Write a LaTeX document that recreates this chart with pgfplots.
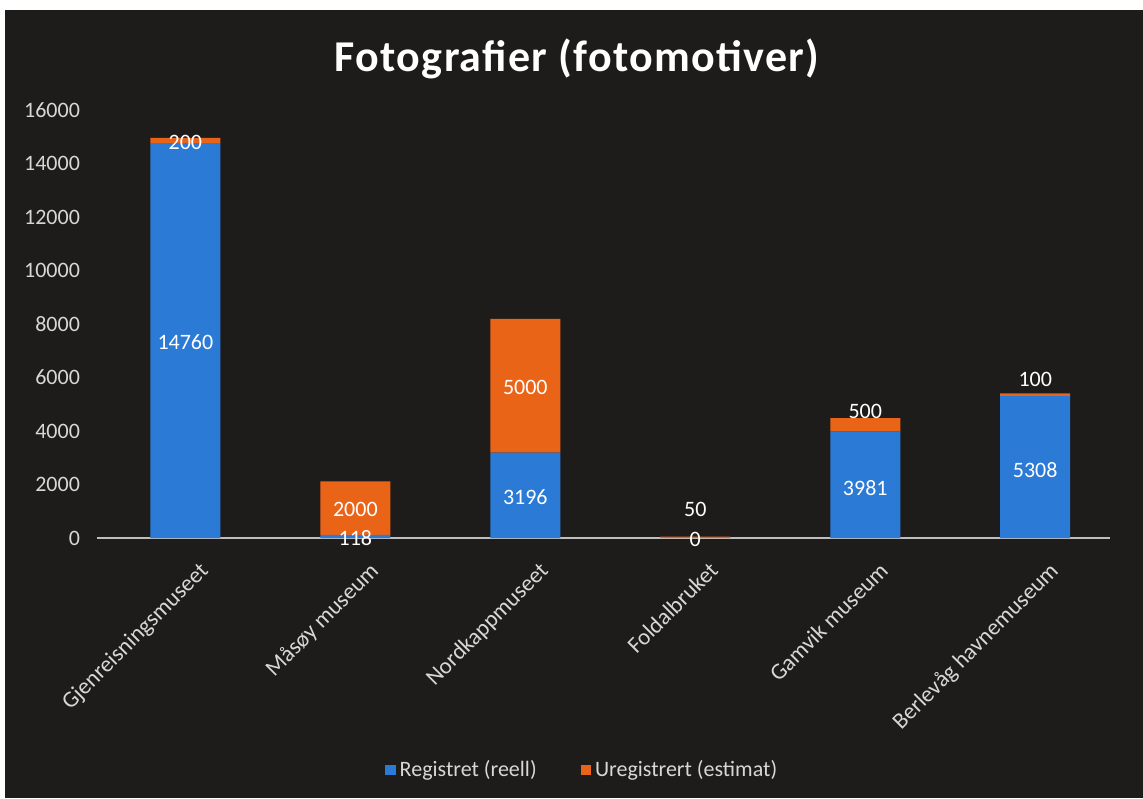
\documentclass[border=0pt]{standalone}
\usepackage{pgfplots}
\pgfplotsset{compat=1.18}
\usepackage{fontspec}
\setmainfont{Carlito}
\newfontfamily\titlefont[LetterSpace=3]{Carlito}
\definecolor{bgdark}{RGB}{30,28,27}
\definecolor{regblue}{RGB}{42,122,214}
\definecolor{uregorange}{RGB}{234,100,24}
\definecolor{ticktext}{RGB}{215,215,215}
\definecolor{axisgray}{RGB}{190,190,190}
\begin{document}
\begin{tikzpicture}
% page background (scan: thin white strip top and left)
\fill[white] (-48.5pt,-130pt) rectangle (523pt,269pt);
\fill[bgdark] (-46pt,-130pt) rectangle (523pt,264pt);

\pgfplotsset{
  base/.style={
    scale only axis, width=506.5pt, height=214pt,
    xmin=-0.52, xmax=5.44, ymin=0, ymax=16000,
    at={(0,0)}, anchor=south west,
  }
}

\begin{axis}[base,
    ybar stacked, bar width=35pt,
    separate axis lines,
    axis x line*=bottom, axis y line*=left,
    x axis line style={draw=axisgray, line width=1.4pt},
    y axis line style={draw=none},
    major tick length=0pt,
    ytick={0,2000,...,16000},
    xtick={0,...,5},
    xticklabels={Gjenreisningsmuseet, Måsøy museum, Nordkappmuseet, Foldalbruket, Gamvik museum, Berlevåg havnemuseum},
    xticklabel style={rotate=45, anchor=north east, font=\fontsize{11.5}{13}\selectfont, text=ticktext, xshift=0pt, yshift=-9pt},
    yticklabel style={font=\fontsize{11}{13}\selectfont, text=ticktext, xshift=-5pt},
    /pgf/number format/assume math mode=true,
    scaled y ticks=false,
    yticklabel={\pgfmathprintnumber[fixed, 1000 sep={}]{\tick}},
    title={\titlefont\bfseries Fotografier (fotomotiver)},
    title style={at={(0.474,1)}, anchor=center, yshift=19.5pt, text=white, font=\fontsize{22}{25}\selectfont},
    legend style={at={(0.48,-0.542)}, anchor=center, draw=none, fill=none,
      text=ticktext, font=\fontsize{11}{13}\selectfont,
      /tikz/every even column/.append style={column sep=20pt}},
    legend columns=2,
    legend image code/.code={\fill[#1] (0pt,-2.6pt) rectangle (5.2pt,2.6pt);},
  ]
\addplot[fill=regblue, draw=none] coordinates {(0,14760) (1,118) (2,3196) (3,0) (4,3981) (5,5308)};
\addlegendentry{Registret (reell)}
\addplot[fill=uregorange, draw=none] coordinates {(0,200) (1,2000) (2,5000) (3,50) (4,500) (5,100)};
\addlegendentry{Uregistrert (estimat)}
\end{axis}

\begin{axis}[base, hide axis, clip=false]
\addplot[draw=none, mark=none, nodes near coords, point meta=explicit symbolic,
  every node near coord/.append style={anchor=center, text=white, font=\fontsize{11}{13}\selectfont}]
  coordinates {
  (0,7330) [14760] (0,14800) [200]
  (1,1050) [2000] (1,0) [118]
  (2,5610) [5000] (2,1530) [3196]
  (3,1050) [50] (3,-40) [0]
  (4,1870) [3981] (4,4750) [500]
  (5,2540) [5308] (5,5940) [100]
  };
\end{axis}

\pgfresetboundingbox
\path (-48.5pt,-130pt) rectangle (523pt,269pt);
\end{tikzpicture}
\end{document}
